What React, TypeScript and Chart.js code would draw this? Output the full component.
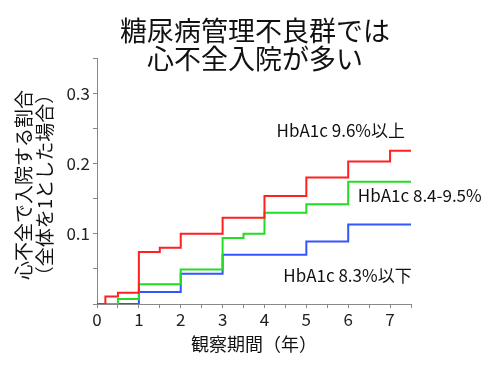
import React, { useEffect, useRef } from "react";
import { Chart, registerables } from "chart.js";

Chart.register(...registerables);

const titleLines = ["糖尿病管理不良群では", "心不全入院が多い"];
const yTitleLines = ["心不全で入院する割合", "（全体を1とした場合）"];
const xTitle = "観察期間（年）";

const seriesNames = ["HbA1c 9.6%以上", "HbA1c 8.4-9.5%", "HbA1c 8.3%以下"];

const redX = [0, 0.2, 0.5, 1, 1.5, 2, 3, 4, 5, 6, 7, 7.5];
const redY = [0, 0.0107, 0.016, 0.074, 0.08, 0.1, 0.1226, 0.1536, 0.18, 0.2026, 0.218, 0.218];

const greenX = [0, 0.5, 1, 2, 3, 3.5, 4, 5, 6, 7.5];
const greenY = [0, 0.007, 0.028, 0.049, 0.094, 0.1, 0.13, 0.142, 0.174, 0.174];

const blueX = [0, 1, 2, 3, 5, 6, 7.5];
const blueY = [0, 0.017, 0.043, 0.07, 0.089, 0.113, 0.113];

// label anchor positions in data units (left edge, vertical middle)
const labelX = [4.29, 6.23, 4.45];
const labelY = [0.247, 0.155, 0.04];

const colors = ["#ff2020", "#22dd22", "#3355ff"];
const FONT = "'Noto Sans CJK JP', 'Noto Sans', sans-serif";

const toPts = (xs: number[], ys: number[]) => xs.map((x, i) => ({ x, y: ys[i] }));

export default function App() {
  const ref = useRef<HTMLCanvasElement | null>(null);
  useEffect(() => {
    if (!ref.current) return;
    const textPlugin = {
      id: "texts",
      afterDraw(chart: any) {
        const ctx = chart.ctx;
        ctx.save();
        ctx.fillStyle = "#111";
        ctx.textAlign = "center";
        ctx.textBaseline = "middle";
        ctx.font = `27px ${FONT}`;
        ctx.fillText(titleLines[0], 255, 31);
        ctx.fillText(titleLines[1], 255, 59);
        // rotated y-axis title
        ctx.save();
        ctx.font = `19px ${FONT}`;
        ctx.translate(24, 185);
        ctx.rotate(-Math.PI / 2);
        ctx.fillText(yTitleLines[0], 0, 0);
        ctx.fillText(yTitleLines[1], 0, 21);
        ctx.restore();
        ctx.font = `17px ${FONT}`;
        ctx.textAlign = "left";
        const xs = chart.scales.x;
        const ys = chart.scales.y;
        seriesNames.forEach((n, i) => {
          ctx.fillText(n, xs.getPixelForValue(labelX[i]), ys.getPixelForValue(labelY[i]));
        });
        ctx.restore();
      },
    };
    const chart = new Chart(ref.current, {
      type: "line",
      data: {
        datasets: [
          { label: seriesNames[0], data: toPts(redX, redY), borderColor: colors[0] },
          { label: seriesNames[1], data: toPts(greenX, greenY), borderColor: colors[1] },
          { label: seriesNames[2], data: toPts(blueX, blueY), borderColor: colors[2] },
        ].map((d) => ({ ...d, stepped: "before" as const, borderWidth: 2, pointRadius: 0, fill: false })),
      },
      options: {
        responsive: false,
        animation: false,
        layout: { padding: { top: 58, right: 89, bottom: 0, left: 0 } },
        plugins: { legend: { display: false }, tooltip: { enabled: false }, title: { display: false } },
        scales: {
          x: {
            type: "linear",
            min: 0,
            max: 7.5,
            afterFit: (s: any) => { s.height = 70; },
            border: { color: "#888", width: 1 },
            grid: { drawOnChartArea: false, tickLength: 4, color: "#888" },
            ticks: {
              stepSize: 0.5,
              padding: 1,
              color: "#222",
              font: { family: FONT, size: 17 },
              maxRotation: 0,
              autoSkip: false,
              callback: (v: any) => (Math.abs(v - Math.round(v)) < 1e-6 ? String(Math.round(v)) : ""),
            },
            title: {
              display: true,
              text: xTitle,
              color: "#111",
              font: { family: FONT, size: 18, lineHeight: 1.2 },
              padding: { top: 0, bottom: 19 },
            },
          },
          y: {
            type: "linear",
            min: 0,
            max: 0.35,
            afterFit: (s: any) => { s.width = 97; },
            border: { color: "#888", width: 1 },
            grid: { drawOnChartArea: false, tickLength: 4, color: "#888" },
            ticks: {
              stepSize: 0.05,
              padding: 3,
              color: "#222",
              font: { family: FONT, size: 17 },
              autoSkip: false,
              callback: (v: any) => {
                const k = Math.round(v * 100);
                return k > 0 && k % 10 === 0 ? (k / 100).toFixed(1) : "";
              },
            },
            title: { display: false },
          },
        },
      },
      plugins: [textPlugin],
    });
    return () => chart.destroy();
  }, []);
  return (
    <div style={{ position: "fixed", left: 0, top: 0, width: 500, height: 374, background: "#fff" }}>
      <canvas ref={ref} width={500} height={374} style={{ width: 500, height: 374 }} />
    </div>
  );
}
